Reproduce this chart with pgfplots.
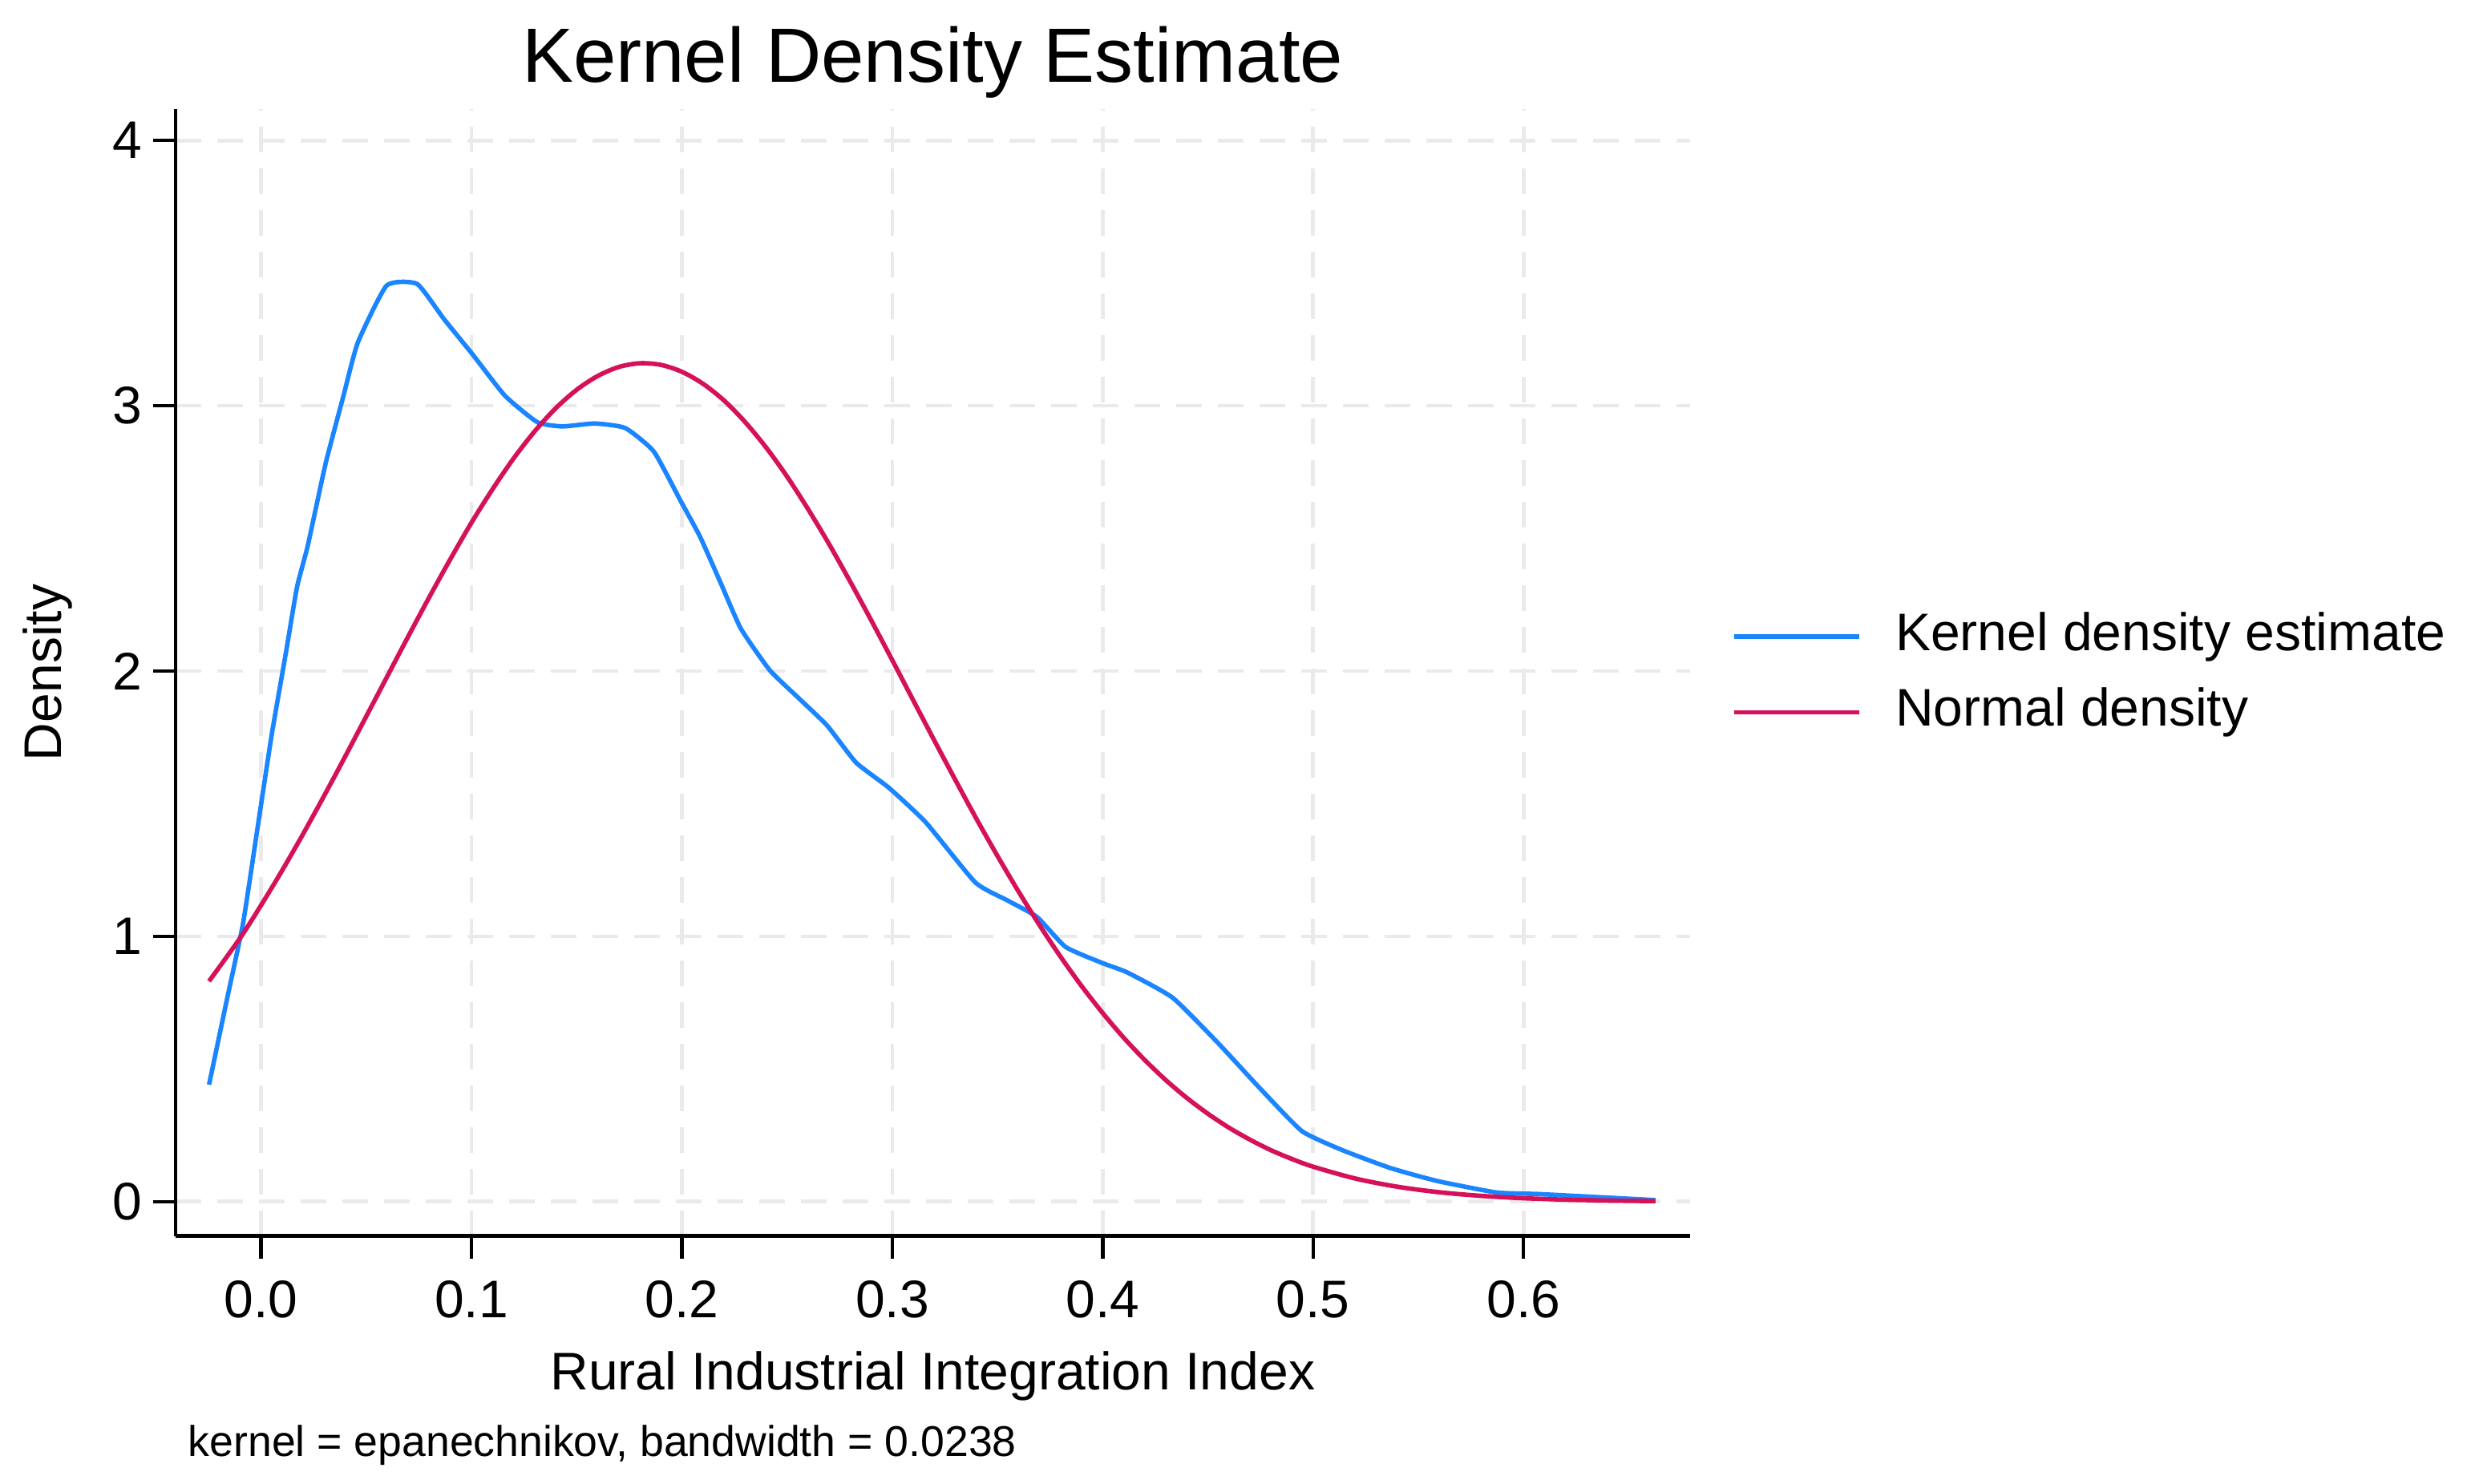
\documentclass[border=0pt]{standalone}
\usepackage{pgfplots}
\pgfplotsset{compat=1.18}
\usepackage{fontspec}
\setmainfont{Liberation Sans}
\definecolor{stcblue}{RGB}{26,133,255}
\definecolor{stcred}{RGB}{212,17,89}
\definecolor{gridgray}{RGB}{234,234,234}
\begin{document}
\begin{tikzpicture}
\useasboundingbox (0,0) rectangle (769.25pt,462.75pt);
\begin{axis}[
  at={(54.75pt,77.35pt)}, anchor=south west,
  width=472.15pt, height=351.3pt, scale only axis,
  xmin=-0.0406, xmax=0.679, ymin=-0.129, ymax=4.117,
  axis x line*=bottom, axis y line*=left,
  axis line style={-, line width=1.1pt, black},
  xtick={0,0.1,0.2,0.3,0.4,0.5,0.6},
  ytick={0,1,2,3,4},
  tick align=outside,
  major tick length=7pt,
  tick style={black, line width=1.1pt},
  grid=major,
  major grid style={gridgray, line width=1.2pt, dash pattern=on 8pt off 5pt},
  /pgf/number format/assume math mode=true,
  xticklabel style={/pgf/number format/fixed, /pgf/number format/fixed zerofill, /pgf/number format/precision=1, font=\fontsize{16.5}{19}\selectfont, yshift=-3.5pt},
  yticklabel style={font=\fontsize{16.5}{19}\selectfont},
  xlabel={Rural Industrial Integration Index},
  xlabel style={at={(axis description cs:0.5,0)}, anchor=base, yshift=-47.9pt, font=\fontsize{16.5}{19}\selectfont},
  ylabel={Density},
  ylabel style={at={(axis description cs:0,0.5)}, anchor=base, yshift=35.5pt, font=\fontsize{16.5}{19}\selectfont},
  title={Kernel Density Estimate},
  title style={at={(axis description cs:0.5,1)}, anchor=base, yshift=2.35pt, font=\fontsize{24}{28}\selectfont},
  legend style={at={(axis description cs:1.0272,0.4984)}, anchor=west, draw=none, fill=none,
    inner sep=0pt, column sep=8.7pt, row sep=4.1pt,
    font=\fontsize{16.5}{19}\selectfont,
    nodes={inner sep=2pt, text height=12pt, text depth=3.5pt, anchor=west}},
  legend cell align=left,
  legend image code/.code={\draw[#1, line width=1.4pt] (0pt,0pt) -- (39pt,0pt);},
]
\addplot[stcblue, line width=1.4pt, smooth, tension=0.3] coordinates {
(-0.0247,0.441) (-0.0162,0.762) (-0.0085,1.051) (-0.0017,1.406) (0.0051,1.761) (0.0119,2.072)
(0.0171,2.316) (0.0222,2.472) (0.0307,2.782) (0.0392,3.038) (0.046,3.238) (0.0597,3.453)
(0.0742,3.459) (0.087,3.326) (0.1006,3.193) (0.1159,3.038) (0.1313,2.938) (0.1432,2.922)
(0.1586,2.933) (0.1731,2.916) (0.1867,2.827) (0.1995,2.64) (0.2086,2.507) (0.2184,2.333)
(0.2281,2.159) (0.2418,2.003) (0.2555,1.898) (0.2691,1.794) (0.2828,1.655) (0.2984,1.560)
(0.316,1.429) (0.3395,1.203) (0.3551,1.134) (0.3688,1.073) (0.3824,0.960) (0.4,0.899)
(0.4117,0.864) (0.4332,0.769) (0.4547,0.599) (0.475,0.425) (0.4947,0.266) (0.514,0.194)
(0.5367,0.127) (0.559,0.078) (0.587,0.035) (0.6067,0.029) (0.629,0.02) (0.6627,0.006)
};
\addlegendentry{Kernel density estimate}
\addplot[stcred, line width=1.4pt, smooth] coordinates {
(-0.0247,0.831) (-0.01,0.993) (0.0,1.117) (0.01,1.248) (0.02,1.386) (0.03,1.530) (0.04,1.678)
(0.05,1.829) (0.06,1.980) (0.07,2.131) (0.08,2.279) (0.09,2.422) (0.10,2.559) (0.11,2.685)
(0.12,2.801) (0.13,2.903) (0.14,2.990) (0.15,3.060) (0.16,3.112) (0.17,3.146) (0.18,3.160)
(0.19,3.154) (0.20,3.128) (0.21,3.083) (0.22,3.020) (0.23,2.939) (0.24,2.843) (0.25,2.733)
(0.26,2.610) (0.27,2.478) (0.28,2.337) (0.29,2.191) (0.30,2.041) (0.31,1.889) (0.32,1.738)
(0.33,1.589) (0.34,1.443) (0.35,1.303) (0.36,1.169) (0.37,1.042) (0.38,0.923) (0.39,0.8125)
(0.40,0.711) (0.41,0.6178) (0.42,0.534) (0.43,0.4582) (0.44,0.391) (0.45,0.3315) (0.46,0.279)
(0.47,0.2338) (0.48,0.194) (0.49,0.1608) (0.50,0.132) (0.52,0.0875) (0.54,0.0565) (0.56,0.0356)
(0.58,0.0219) (0.60,0.0131) (0.62,0.0077) (0.64,0.0044) (0.6627,0.0022)
};
\addlegendentry{Normal density}
\end{axis}
\node[anchor=base west, font=\fontsize{13.4}{16}\selectfont, inner sep=0pt] at (58.5pt,8.5pt) {kernel = epanechnikov, bandwidth = 0.0238};
\end{tikzpicture}
\end{document}
